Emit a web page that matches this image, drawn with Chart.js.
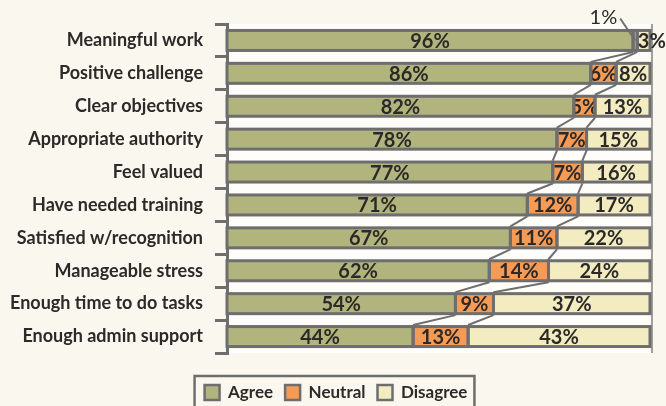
<!DOCTYPE html>
<html>
<head>
<meta charset="utf-8">
<script src="https://cdn.jsdelivr.net/npm/chart.js@4/dist/chart.umd.min.js"></script>
<style>
  html, body { margin: 0; padding: 0; background: #faf7ef; }
</style>
</head>
<body>
<canvas id="myBarChart" width="666" height="406"></canvas>
<script>
// Data
var categories = ['Meaningful work', 'Positive challenge', 'Clear objectives', 'Appropriate authority',
  'Feel valued', 'Have needed training', 'Satisfied w/recognition', 'Manageable stress',
  'Enough time to do tasks', 'Enough admin support'];
var agree = [96, 86, 82, 78, 77, 71, 67, 62, 54, 44];
var neutral = [1, 6, 5, 7, 7, 12, 11, 14, 9, 13];
var disagree = [3, 8, 13, 15, 16, 17, 22, 24, 37, 43];
var seriesNames = ['Agree', 'Neutral', 'Disagree'];

var colors = ['#b1b47c', '#f69b55', '#f3ecc0'];
var edge = '#6e6e6e';
var ink = '#2b2a29';

Chart.defaults.font.family = 'Lato';

// bakgrund + ljust band bakom staplarna
var bandPlugin = {
  id: 'band',
  afterLayout: function (chart) {
    // förklaringen lite åt höger
    if (chart.legend) {
      chart.legend.left += 11;
      chart.legend.right += 11;
    }
  },
  beforeDraw: function (chart) {
    var c = chart.ctx, a = chart.chartArea;
    c.save();
    c.fillStyle = '#faf7ef';
    c.fillRect(0, 0, chart.width, chart.height);
    c.fillStyle = '#fefdf9';
    c.fillRect(a.left, a.top, a.right - a.left, a.bottom - a.top);
    c.strokeStyle = '#a0a0a0';
    c.lineWidth = 2;
    c.beginPath();
    c.moveTo(a.right + 2, a.top);
    c.lineTo(a.right + 2, a.bottom);
    c.stroke();
    c.restore();
  }
};

// connector lines, outlines, labels
var barDecor = {
  id: 'barDecor',
  afterDatasetsDraw: function (chart) {
    var c = chart.ctx;
    var metas = [0, 1, 2].map(function (i) { return chart.getDatasetMeta(i); });
    var props = metas.map(function (m) {
      return m.data.map(function (el) { return el.getProps(['x', 'y', 'base', 'height'], true); });
    });
    c.save();

    // connector lines between bars
    c.strokeStyle = edge;
    c.lineWidth = 2;
    for (var i = 0; i < categories.length - 1; i++) {
      [0, 1].forEach(function (d) {
        var p = props[d][i], q = props[d][i + 1];
        c.beginPath();
        c.moveTo(p.x, p.y + p.height / 2 + 1.5);
        c.lineTo(q.x, q.y - q.height / 2 - 1.5);
        c.stroke();
      });
    }

    // outlines
    c.lineWidth = 3;
    props.forEach(function (list) {
      list.forEach(function (p) {
        c.strokeRect(p.base, p.y - p.height / 2, p.x - p.base, p.height);
      });
    });

    // value labels
    c.fillStyle = ink;
    c.font = 'bold 20px Lato';
    c.textBaseline = 'middle';
    props.forEach(function (list, d) {
      var values = chart.data.datasets[d].data;
      list.forEach(function (p, i) {
        var v = values[i];
        if (v < 2) return;
        var txt = v + '%';
        var w = c.measureText(txt).width;
        var inner = p.x - p.base - 3;
        c.save();
        if (d === 1) {
          c.beginPath();
          c.rect(p.base + 1.5, p.y - p.height / 2, inner, p.height);
          c.clip();
        }
        if (d === 2 && w > inner) {
          c.textAlign = 'left';
          c.fillText(txt, p.base + 0.5, p.y + 1);
        } else {
          c.textAlign = 'center';
          c.fillText(txt, (p.x + p.base) / 2, p.y + 1);
        }
        c.restore();
      });
    });

    // small neutral value shown outside
    neutral.forEach(function (v, i) {
      if (v >= 2) return;
      var p = props[1][i];
      var cx = (p.x + p.base) / 2;
      c.strokeStyle = edge;
      c.lineWidth = 2;
      c.beginPath();
      c.moveTo(cx - 15, p.y - 22);
      c.lineTo(cx, p.y);
      c.stroke();
      c.font = '20px Lato';
      c.textAlign = 'right';
      c.fillText(v + '%', cx - 18, p.y - 23);
    });
    c.restore();
  }
};

// ram runt förklaringen
var legendFrame = {
  id: 'legendFrame',
  afterDraw: function (chart) {
    var lg = chart.legend;
    if (!lg || !lg.legendHitBoxes.length) return;
    var hb = lg.legendHitBoxes;
    var left = hb[0].left - 10;
    var last = hb[hb.length - 1];
    var right = last.left + last.width + 7;
    var top = hb[0].top - 8;
    var c = chart.ctx;
    c.save();
    c.strokeStyle = edge;
    c.lineWidth = 2.5;
    c.strokeRect(left, top, right - left, 60);
    c.restore();
  }
};

var ctx = document.getElementById('myBarChart').getContext('2d');
var myBarChart = new Chart(ctx, {
  type: 'bar',
  data: {
    labels: categories,
    datasets: [
      { label: seriesNames[0], data: agree, backgroundColor: colors[0], borderWidth: 0, barThickness: 20 },
      { label: seriesNames[1], data: neutral, backgroundColor: colors[1], borderWidth: 0, barThickness: 20 },
      { label: seriesNames[2], data: disagree, backgroundColor: colors[2], borderWidth: 0, barThickness: 20 }
    ]
  },
  options: {
    indexAxis: 'y',
    responsive: false,
    animation: false,
    devicePixelRatio: 1,
    layout: { padding: { top: 24, right: 16, left: 0, bottom: -5 } },
    scales: {
      x: {
        stacked: true,
        min: 0,
        max: 100,
        ticks: { display: false },
        grid: { display: false },
        border: { display: false },
        afterFit: function (s) { s.height = 19; }
      },
      y: {
        stacked: true,
        afterFit: function (s) { s.width = 227; },
        grid: {
          offset: true,
          drawOnChartArea: false,
          drawTicks: true,
          tickLength: 12,
          color: edge,
          lineWidth: 3
        },
        border: { display: true, color: edge, width: 3 },
        ticks: {
          padding: 12,
          color: ink,
          font: { family: 'Lato', weight: 'bold', size: 18 }
        }
      }
    },
    plugins: {
      tooltip: { enabled: false },
      legend: {
        position: 'bottom',
        labels: {
          boxWidth: 15,
          boxHeight: 15,
          padding: 12,
          color: ink,
          font: { family: 'Lato', weight: 'bold', size: 17 },
          generateLabels: function (chart) {
            return chart.data.datasets.map(function (ds, i) {
              return {
                text: ds.label,
                fillStyle: ds.backgroundColor,
                strokeStyle: edge,
                lineWidth: 2.5,
                fontColor: ink,
                hidden: false,
                datasetIndex: i
              };
            });
          }
        }
      }
    }
  },
  plugins: [bandPlugin, barDecor, legendFrame]
});
</script>
</body>
</html>
